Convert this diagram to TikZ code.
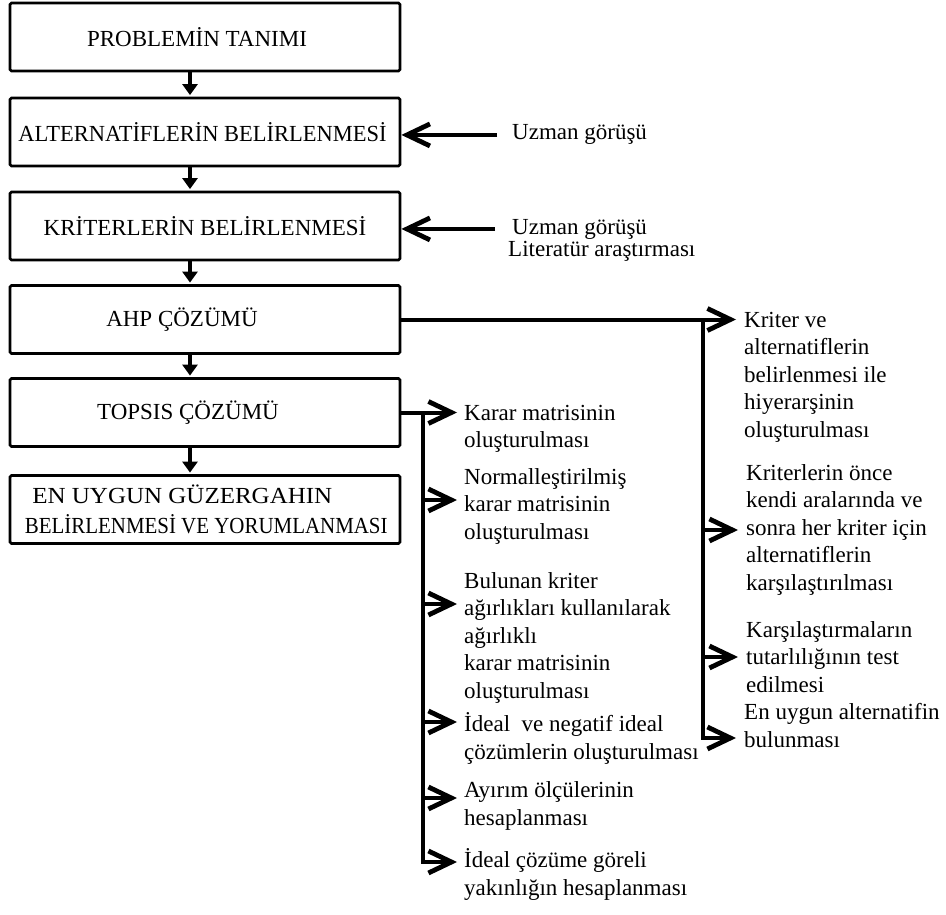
\documentclass[tikz,border=0pt]{standalone}
\usepackage{fontspec}
\setmainfont{Liberation Serif}
\usepackage{graphicx}
\usetikzlibrary{arrows.meta}
\tikzset{
  box/.style={draw, line width=2.8pt, rounded corners=1.5pt, minimum width=390pt,
    minimum height=68pt, inner sep=0pt, font=\fontsize{23}{27}\selectfont},
  lbl/.style={inner sep=0pt, anchor=base west, align=left,
    font=\fontsize{23}{27.5}\selectfont},
  down/.style={line width=4pt, -{Triangle[length=11pt,width=15pt]}, shorten >=1.5pt},
  side/.style={line width=4pt, -{Straight Barb[length=23pt,width=22pt,line width=4.8pt]}},
}
\begin{document}
\begin{tikzpicture}[x=1pt,y=-1pt]
\useasboundingbox (0,0) rectangle (946,915);
% main boxes
\node[box] (b1) at (205,37) {PROBLEMİN TANIMI\hspace*{16pt}};
\node[box] (b2) at (205,132) {\scalebox{0.977}[1]{ALTERNATİFLERİN BELİRLENMESİ}\hspace*{5pt}};
\node[box] (b3) at (205,226) {KRİTERLERİN BELİRLENMESİ};
\node[box] (b4) at (205,319.5) {AHP ÇÖZÜMÜ\hspace*{46pt}};
\node[box] (b5) at (205,412.5) {TOPSIS ÇÖZÜMÜ\hspace*{34pt}};
\node[box, align=left, font=\fontsize{23}{30}\selectfont] (b6) at (205,509.5)
  {\hspace*{10pt}\scalebox{1.087}[1]{EN UYGUN GÜZERGAHIN}\\\hspace*{2.5pt}\scalebox{0.91}[1]{BELİRLENMESİ VE YORUMLANMASI}};
\foreach \a/\b in {b1/b2,b2/b3,b3/b4,b4/b5,b5/b6}
  \draw[down] ([xshift=-15pt]\a.south) -- ([xshift=-15pt]\b.north);
% expert inputs
\node[lbl] (u1) at (512,140) {Uzman görüşü};
\node[lbl] (u2a) at (512,234) {Uzman görüşü};
\node[lbl] (u2b) at (508,256) {Literatür araştırması};
\coordinate (u1s) at ([xshift=-15pt]u1.west);
\coordinate (u2s) at ([xshift=-17pt]u2a.west);
\draw[side] (u1s) -- (b2.east |- u1s);
\draw[side] (u2s) -- (b3.east |- u2s);
% AHP branch (base anchor = baseline of the last line)
\node[lbl] (a1) at (744,437) {Kriter ve\\alternatiflerin\\belirlenmesi ile\\hiyerarşinin\\oluşturulması};
\node[lbl] (a2) at (746,590) {Kriterlerin önce\\kendi aralarında ve\\sonra her kriter için\\alternatiflerin\\karşılaştırılması};
\node[lbl] (a3) at (746,692) {Karşılaştırmaların\\tutarlılığının test\\edilmesi};
\node[lbl] (a4) at (744,747) {En uygun alternatifin\\bulunması};
\coordinate (ahpT) at ([xshift=302pt]b4.east);
\coordinate (pa2) at ([yshift=60pt]a2.base west);
\coordinate (pa3) at ([yshift=35pt]a3.base west);
\coordinate (pa4) at ([yshift=9pt]a4.base west);
\coordinate (ahpB) at (ahpT |- pa4);
\draw[side, shorten >=8pt] (b4.east) -- (a1.west |- b4.east);
\draw[side, shorten >=8pt] (ahpT) -- (ahpB) -- (pa4);
\draw[side, shorten >=8pt] (ahpT |- pa2) -- (pa2);
\draw[side, shorten >=8pt] (ahpT |- pa3) -- (pa3);
% TOPSIS branch
\node[lbl] (t1) at (464,447.5) {Karar matrisinin\\oluşturulması};
\node[lbl] (t2) at (464,539) {Normalleştirilmiş\\karar matrisinin\\oluşturulması};
\node[lbl] (t3) at (464,698) {Bulunan kriter\\ağırlıkları kullanılarak\\ağırlıklı\\karar matrisinin\\oluşturulması};
\node[lbl] (t4) at (464,759) {İdeal\ \ ve negatif ideal\\çözümlerin oluşturulması};
\node[lbl] (t5) at (464,825) {Ayırım ölçülerinin\\hesaplanması};
\node[lbl] (t6) at (464,895) {İdeal çözüme göreli\\yakınlığın hesaplanması};
\coordinate (topT) at ([xshift=22pt]b5.east);
\coordinate (pt2) at ([yshift=39pt]t2.base west);
\coordinate (pt3) at ([yshift=94pt]t3.base west);
\coordinate (pt4) at ([yshift=37pt]t4.base west);
\coordinate (pt5) at ([yshift=27pt]t5.base west);
\coordinate (pt6) at ([yshift=33pt]t6.base west);
\coordinate (topB) at (topT |- pt6);
\draw[side, shorten >=7pt] (b5.east) -- (t1.west |- b5.east);
\draw[side, shorten >=7pt] (topT) -- (topB) -- (pt6);
\draw[side, shorten >=7pt] (topT |- pt2) -- (pt2);
\draw[side, shorten >=7pt] (topT |- pt3) -- (pt3);
\draw[side, shorten >=7pt] (topT |- pt4) -- (pt4);
\draw[side, shorten >=7pt] (topT |- pt5) -- (pt5);
\end{tikzpicture}
\end{document}
